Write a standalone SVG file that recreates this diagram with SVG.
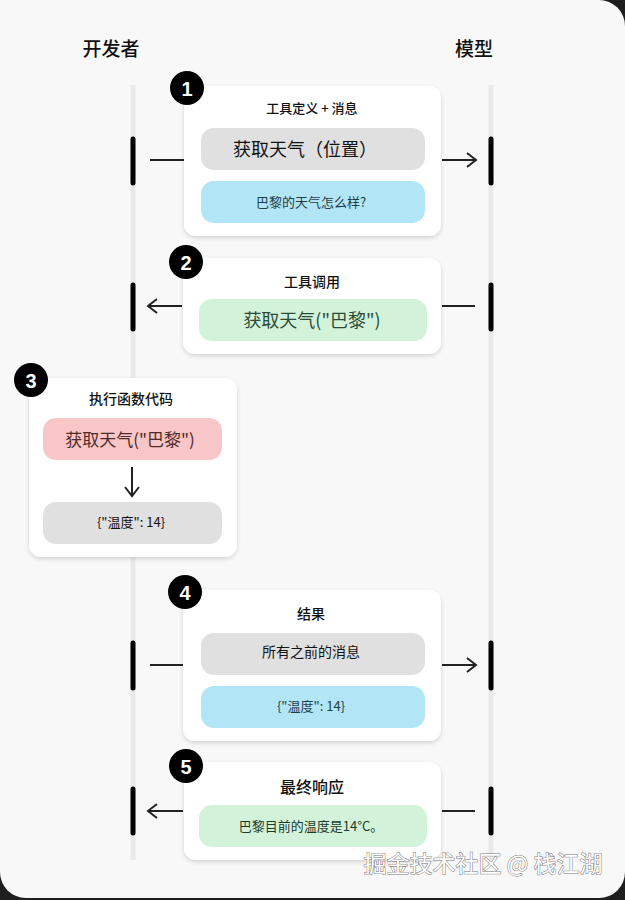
<svg xmlns="http://www.w3.org/2000/svg" width="625" height="900" viewBox="0 0 625 900">
<defs>
<style>
.t{font-family:"Noto Sans CJK SC","Noto Sans",sans-serif;font-weight:400;text-anchor:middle;dominant-baseline:central;fill:#111}
.h{font-weight:500}
.card{fill:#fff;filter:url(#sh)}
.life{stroke:#e9e9e9;stroke-width:5}
.bar{stroke:#000;stroke-width:5;stroke-linecap:round}
.ln{stroke:#222;stroke-width:2;fill:none}
.badge{fill:#000}
.bn{font-family:"Liberation Sans",Arial,sans-serif;font-weight:bold;font-size:20px;fill:#fff;text-anchor:middle;dominant-baseline:central}
.gray{fill:#e0e0e0}
.blue{fill:#b2e6f6}
.green{fill:#d3f2da}
.pink{fill:#f8c6c6}
</style>
<filter id="sh" x="-10%" y="-10%" width="120%" height="130%">
<feDropShadow dx="0" dy="2" stdDeviation="2" flood-color="#000" flood-opacity="0.15"/>
</filter>
<marker id="ah" markerWidth="14" markerHeight="16" refX="11" refY="8" orient="auto" markerUnits="userSpaceOnUse">
<path d="M2,1 L11,8 L2,15" fill="none" stroke="#222" stroke-width="2"/>
</marker>
</defs>
<rect x="0" y="0" width="625" height="900" fill="#1e1e1e"/>
<rect x="0" y="0" width="625" height="898" rx="26" fill="#f8f8f8"/>
<rect x="0" y="0" width="40" height="40" fill="#f8f8f8"/>

<g id="headers">
<text class="t h" x="111" y="47" font-size="19">开发者</text>
<text class="t h" x="474" y="47" font-size="19">模型</text>
</g>

<g id="lifelines">
<line class="life" x1="133" y1="85" x2="133" y2="860"/>
<line class="life" x1="491" y1="85" x2="491" y2="860"/>
</g>

<g id="step1">
<rect class="card" x="184" y="86" width="257" height="150" rx="12"/>
<text class="t h" x="312" y="107" font-size="13">工具定义 + 消息</text>
<rect class="gray" x="201" y="128" width="224" height="42" rx="13"/>
<text class="t" x="305" y="148" font-size="18">获取天气（位置）</text>
<rect class="blue" x="201" y="181" width="224" height="42" rx="13"/>
<text class="t" x="311" y="201" font-size="13" style="fill:#1f3d4a">巴黎的天气怎么样?</text>
<circle class="badge" cx="187" cy="88" r="17"/>
<text class="bn" x="187" y="89">1</text>
</g>

<g id="step2">
<rect class="card" x="183" y="258" width="258" height="96" rx="12"/>
<text class="t h" x="312" y="281" font-size="14">工具调用</text>
<rect class="green" x="199" y="299" width="228" height="42" rx="13"/>
<text class="t" x="312" y="319" font-size="18" style="fill:#2b4a37">获取天气("巴黎")</text>
<circle class="badge" cx="186" cy="262" r="17"/>
<text class="bn" x="186" y="263">2</text>
</g>

<g id="step3">
<rect class="card" x="29" y="378" width="208" height="179" rx="12"/>
<text class="t h" x="131" y="398" font-size="14">执行函数代码</text>
<rect class="pink" x="43" y="418" width="179" height="42" rx="13"/>
<text class="t" x="130" y="438" font-size="17" style="fill:#4e2a2a">获取天气("巴黎")</text>
<rect class="gray" x="43" y="502" width="179" height="42" rx="13"/>
<text class="t" x="131" y="521" font-size="13">{"温度": 14}</text>
<circle class="badge" cx="31" cy="380" r="17"/>
<text class="bn" x="31" y="381">3</text>
</g>

<g id="step4">
<rect class="card" x="183" y="590" width="258" height="151" rx="12"/>
<text class="t h" x="311" y="613" font-size="14">结果</text>
<rect class="gray" x="201" y="633" width="224" height="42" rx="13"/>
<text class="t" x="311" y="651" font-size="14">所有之前的消息</text>
<rect class="blue" x="201" y="686" width="224" height="42" rx="13"/>
<text class="t" x="311" y="705" font-size="13" style="fill:#1f3d4a">{"温度": 14}</text>
<circle class="badge" cx="185" cy="592" r="17"/>
<text class="bn" x="185" y="593">4</text>
</g>

<g id="step5">
<rect class="card" x="184" y="762" width="257" height="98" rx="12"/>
<text class="t h" x="312" y="786" font-size="16">最终响应</text>
<rect class="green" x="199" y="805" width="228" height="42" rx="13"/>
<text class="t" x="311" y="825" font-size="13" style="fill:#1f3a2a">巴黎目前的温度是14°C。</text>
<circle class="badge" cx="186" cy="766" r="17"/>
<text class="bn" x="186" y="767">5</text>
</g>

<g id="connectors">
<line class="bar" x1="133" y1="139" x2="133" y2="183"/>
<line class="bar" x1="491" y1="139" x2="491" y2="183"/>
<line class="ln" x1="150" y1="160" x2="184" y2="160"/>
<line class="ln" x1="442" y1="160" x2="476" y2="160" marker-end="url(#ah)"/>

<line class="bar" x1="133" y1="285" x2="133" y2="329"/>
<line class="bar" x1="491" y1="285" x2="491" y2="329"/>
<line class="ln" x1="182" y1="306" x2="148" y2="306" marker-end="url(#ah)"/>
<line class="ln" x1="442" y1="306" x2="475" y2="306"/>

<line class="ln" x1="132" y1="467" x2="132" y2="496" marker-end="url(#ah)"/>

<line class="bar" x1="133" y1="643" x2="133" y2="688"/>
<line class="bar" x1="491" y1="643" x2="491" y2="688"/>
<line class="ln" x1="150" y1="665" x2="183" y2="665"/>
<line class="ln" x1="442" y1="665" x2="476" y2="665" marker-end="url(#ah)"/>

<line class="bar" x1="133" y1="789" x2="133" y2="833"/>
<line class="bar" x1="491" y1="789" x2="491" y2="833"/>
<line class="ln" x1="183" y1="811" x2="148" y2="811" marker-end="url(#ah)"/>
<line class="ln" x1="442" y1="811" x2="475" y2="811"/>
</g>

<g id="watermark">
<text x="483" y="862" font-family="Noto Sans CJK SC,sans-serif" font-size="23" text-anchor="middle" dominant-baseline="central" fill="#fff" stroke="#777" stroke-width="1" paint-order="stroke">掘金技术社区 @ 栈江湖</text>
</g>
</svg>
